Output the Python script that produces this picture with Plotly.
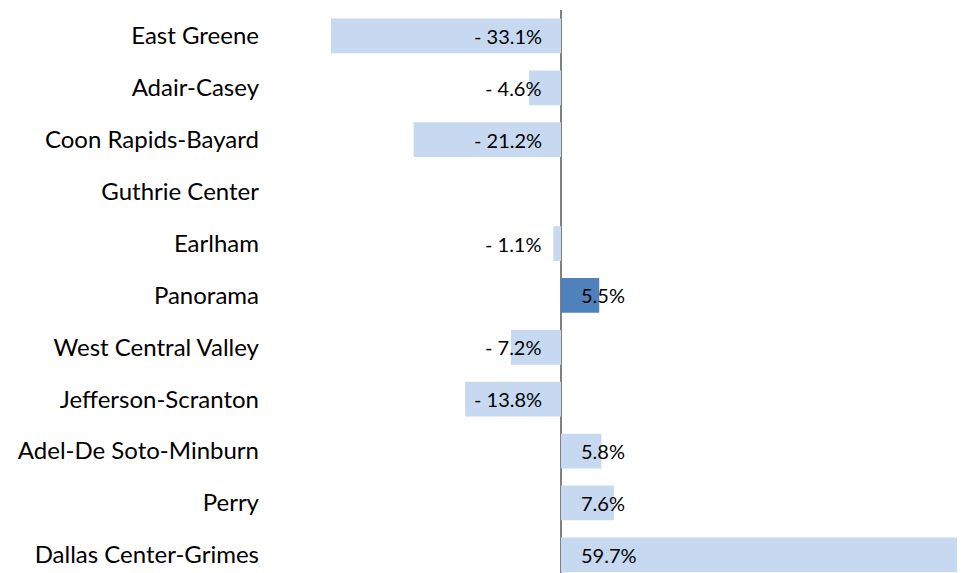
import plotly.graph_objects as go

districts = ["East Greene", "Adair-Casey", "Coon Rapids-Bayard", "Guthrie Center",
             "Earlham", "Panorama", "West Central Valley", "Jefferson-Scranton",
             "Adel-De Soto-Minburn", "Perry", "Dallas Center-Grimes"]
change_pct = [-33.1, -4.6, -21.2, None, -1.1, 5.5, -7.2, -13.8, 5.8, 7.6, 59.7]
highlight = "Panorama"

LIGHT = "#C6D9F1"
DARK = "#4F81BD"
FONT = "Lato"

colors = [DARK if d == highlight else LIGHT for d in districts]

fig = go.Figure()
fig.add_trace(go.Bar(
    x=change_pct, y=districts, orientation="h",
    marker=dict(color=colors, line=dict(width=0)),
    hoverinfo="skip",
))

def fmt(v):
    return ("- " if v < 0 else "") + f"{abs(v):.1f}%"

for d, v in zip(districts, change_pct):
    if v is None:
        continue
    fig.add_annotation(
        x=0, y=d, xref="x", yref="y", text=fmt(v), showarrow=False,
        xanchor="right" if v < 0 else "left",
        xshift=-17 if v < 0 else 18,
        font=dict(family=FONT, size=20, color="#000000"),
    )

# page body adds an 8px offset, so the figure is sized to fill the rest of the window
fig.update_layout(
    width=957, height=565,
    margin=dict(l=262, r=0, t=2, b=0),
    paper_bgcolor="white", plot_bgcolor="white",
    bargap=0.33, showlegend=False,
    font=dict(family=FONT, size=24, color="#000000"),
)
fig.update_xaxes(range=[-41.87, 58.13], showgrid=False, showticklabels=False,
                 zeroline=True, zerolinecolor="#808080", zerolinewidth=2,
                 showline=False, ticks="", automargin=False)
fig.update_yaxes(categoryorder="array", categoryarray=districts,
                 range=[10.35, -0.5], showgrid=False, ticks="",
                 ticklabelstandoff=10, showline=False, automargin=False)

fig.write_html("out.html")
